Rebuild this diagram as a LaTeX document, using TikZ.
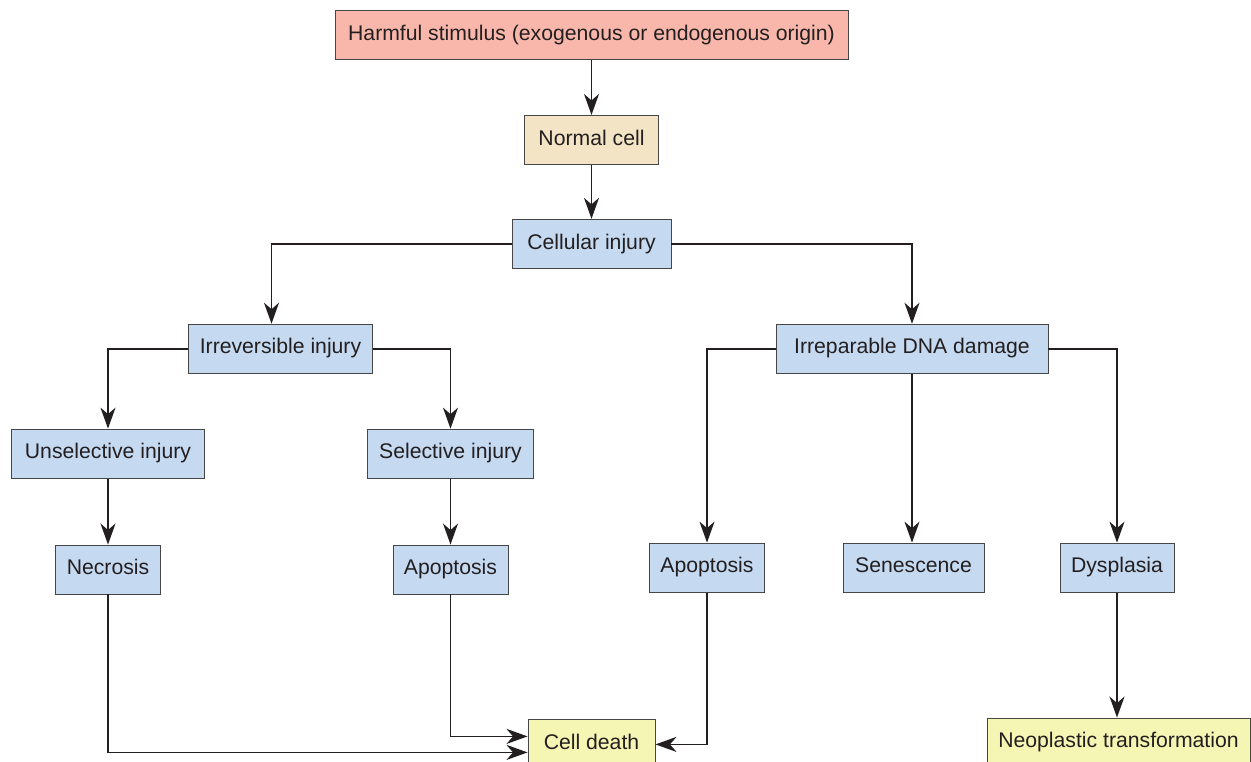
\documentclass[tikz,border=0pt]{standalone}
\usepackage{fontspec}
\setmainfont{Liberation Sans}
\usetikzlibrary{arrows.meta,positioning}
\definecolor{harmred}{RGB}{248,183,170}
\definecolor{cellbeige}{RGB}{242,228,196}
\definecolor{injblue}{RGB}{197,217,241}
\definecolor{endyellow}{RGB}{245,245,180}
\definecolor{edgegray}{RGB}{70,70,70}
\definecolor{linedark}{RGB}{35,31,32}

\begin{document}
\begin{tikzpicture}[x=1pt,y=-1pt,box/.style={draw=edgegray,line width=0.9pt,fill=injblue,font=\fontsize{21.2}{25}\selectfont,text=linedark,inner xsep=11pt,text height=15pt,text depth=4.5pt,minimum height=49pt},link/.style={line width=1.7pt,draw=linedark},>={Stealth[length=21pt,width=15pt,inset=6.5pt]}]
\useasboundingbox (0,0) rectangle (1251,762);
\node[box,fill=harmred,minimum width=513pt] (harm) at (591.5,35) {Harmful stimulus (exogenous or endogenous origin)};
\node[box,fill=cellbeige,minimum width=134pt,below=55pt of harm] (norm) {Normal cell};
\node[box,minimum width=159pt,below=54pt of norm] (cell) {Cellular injury};
\node[box,below=55pt of cell,xshift=-311pt] (irrev) {Irreversible injury};
\node[box,minimum width=272pt,below=55pt of cell,xshift=320.5pt] (dna) {Irreparable DNA damage};
\node[box,minimum width=193pt,below=55pt of irrev,xshift=-172.5pt] (unsel) {Unselective injury};
\node[box,minimum width=166pt,below=55pt of irrev,xshift=170pt] (sel) {Selective injury};
\node[box,below=66pt of unsel] (necro) {Necrosis};
\node[box,below=66pt of sel] (apol) {Apoptosis};
\node[box,below=169pt of dna,xshift=-205pt] (apor) {Apoptosis};
\node[box,minimum width=141pt,below=169pt of dna,xshift=1.5pt] (sen) {Senescence};
\node[box,below=169pt of dna,xshift=205pt] (dys) {Dysplasia};
\node[box,fill=endyellow,minimum width=127pt,below=125pt of apol,xshift=141pt] (death) {Cell death};
\node[box,fill=endyellow,minimum width=263pt,below=125pt of dys,xshift=1.5pt] (neo) {Neoplastic transformation};
% top chain
\draw[link,->] (harm)--(norm);
\draw[link,->] (norm)--(cell);
\draw[link,->] (cell.west)-|([xshift=-9pt]irrev.north);
\draw[link,->] (cell.east)-|(dna.north);
% left branch
\draw[link,->] (irrev.west)-|(unsel.north);
\draw[link,->] (irrev.east)-|(sel.north);
\draw[link,->] (unsel)--(necro);
\draw[link,->] (sel)--(apol);
% right branch
\draw[link,->] (dna.west)-|(apor.north);
\draw[link,->] (dna.south)--(sen.north-|dna.south);
\draw[link,->] (dna.east)-|(dys.north);
\draw[link,->] (dys)--(neo.north-|dys);
% to cell death
\draw[link,->] (necro.south)|-([yshift=-8pt]death.west);
\draw[link,->] (apol.south)|-([yshift=8pt]death.west);
\draw[link,->] (apor.south)|-(death.east);
\end{tikzpicture}
\end{document}
